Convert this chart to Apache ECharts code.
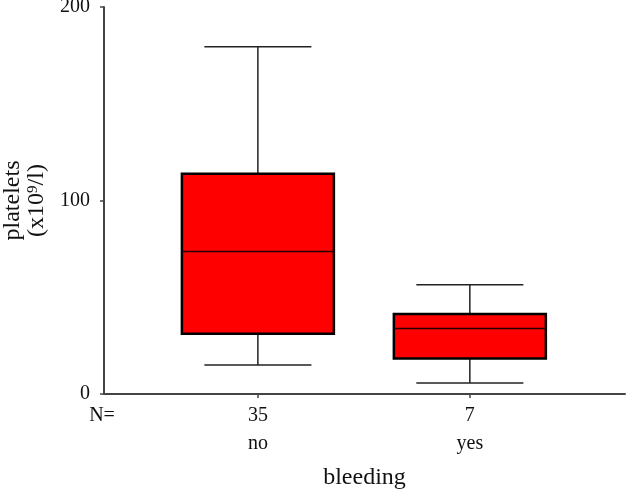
<!DOCTYPE html>
<html>
<head>
<meta charset="utf-8">
<script src="https://cdn.jsdelivr.net/npm/echarts@6/dist/echarts.min.js"></script>
<style>html,body{margin:0;padding:0;background:#fff;}#c{width:626px;height:490px;}</style>
</head>
<body>
<div id="c"></div>
<script>
const categories = ['no', 'yes'];
const counts = [35, 7];
const lowWhisker = [15.0, 5.7];
const q1 = [31.2, 18.4];
const median = [73.6, 33.8];
const q3 = [113.8, 41.3];
const highWhisker = [179.4, 56.5];
const yTicks = [0, 100, 200];
const xPositions = [1, 2];

const FONT = 'Liberation Serif';
const BOX_W = 0.717;
const CAP_W = 0.505;

const boxData = categories.map((c, i) => [xPositions[i], lowWhisker[i], q1[i], median[i], q3[i], highWhisker[i]]);

function renderItem(params, api) {
  const x = api.value(0);
  const pLow = api.coord([x, api.value(1)]);
  const pQ1 = api.coord([x, api.value(2)]);
  const pMed = api.coord([x, api.value(3)]);
  const pQ3 = api.coord([x, api.value(4)]);
  const pHigh = api.coord([x, api.value(5)]);
  const unit = api.size([1, 0])[0];
  const bh = unit * BOX_W / 2;
  const ch = unit * CAP_W / 2;
  const cx = pMed[0];
  const wStyle = { stroke: '#222', lineWidth: 1.5 };
  return {
    type: 'group',
    children: [
      { type: 'line', shape: { x1: cx, y1: pHigh[1], x2: cx, y2: pQ3[1] }, style: wStyle },
      { type: 'line', shape: { x1: cx, y1: pQ1[1], x2: cx, y2: pLow[1] }, style: wStyle },
      { type: 'line', shape: { x1: cx - ch, y1: pHigh[1], x2: cx + ch, y2: pHigh[1] }, style: wStyle },
      { type: 'line', shape: { x1: cx - ch, y1: pLow[1], x2: cx + ch, y2: pLow[1] }, style: wStyle },
      { type: 'rect', shape: { x: cx - bh, y: pQ3[1], width: 2 * bh, height: pQ1[1] - pQ3[1] },
        style: { fill: '#ff0000', stroke: '#000', lineWidth: 2.5 } },
      { type: 'line', shape: { x1: cx - bh, y1: pMed[1], x2: cx + bh, y2: pMed[1] },
        style: { stroke: '#200', lineWidth: 1.5 } }
    ]
  };
}

const chart = echarts.init(document.getElementById('c'), null, { renderer: 'canvas' });
chart.setOption({
  backgroundColor: '#fff',
  animation: false,
  grid: { left: 104, right: 1, top: 7, bottom: 96, containLabel: false, outerBoundsMode: 'none' },
  xAxis: {
    type: 'value',
    min: 0.274,
    max: 2.732,
    name: 'bleeding',
    nameLocation: 'middle',
    nameGap: 72,
    nameTextStyle: { fontFamily: FONT, fontSize: 24, color: '#111' },
    splitLine: { show: false },
    axisLine: { show: true, lineStyle: { color: '#444', width: 2 } },
    axisTick: { show: true, customValues: xPositions, length: 4, inside: false, lineStyle: { color: '#444', width: 1.5 } },
    axisLabel: {
      customValues: xPositions,
      margin: 8,
      formatter: function (v) {
        const i = xPositions.indexOf(v);
        if (i < 0) return '';
        return '{n|' + counts[i] + '}\n{c|' + categories[i] + '}';
      },
      rich: {
        n: { fontFamily: FONT, fontSize: 20, color: '#111', lineHeight: 28 },
        c: { fontFamily: FONT, fontSize: 20, color: '#111', lineHeight: 28 }
      }
    }
  },
  yAxis: {
    type: 'value',
    min: yTicks[0],
    max: yTicks[yTicks.length - 1],
    interval: 100,
    name: 'platelets\n(x10{sup|9}/l)',
    nameLocation: 'middle',
    nameGap: 47,
    nameRotate: 90,
    nameTextStyle: {
      fontFamily: FONT, fontSize: 24, color: '#111', lineHeight: 24, align: 'center',
      rich: {
        sup: { fontFamily: FONT, fontSize: 15, color: '#111', lineHeight: 16, verticalAlign: 'top' }
      }
    },
    splitLine: { show: false },
    axisLine: { show: true, lineStyle: { color: '#444', width: 2 } },
    axisTick: { show: true, length: 4, inside: false, lineStyle: { color: '#444', width: 1.5 } },
    axisLabel: { margin: 14, fontFamily: FONT, fontSize: 20, color: '#111' }
  },
  graphic: [
    { type: 'text', style: { text: 'N=', x: 102, y: 416, align: 'center', verticalAlign: 'middle', font: '20px "Liberation Serif"', fill: '#111' } }
  ],
  series: [{
    type: 'custom',
    renderItem: renderItem,
    encode: { x: 0, y: [1, 2, 3, 4, 5] },
    data: boxData
  }]
});
</script>
</body>
</html>
